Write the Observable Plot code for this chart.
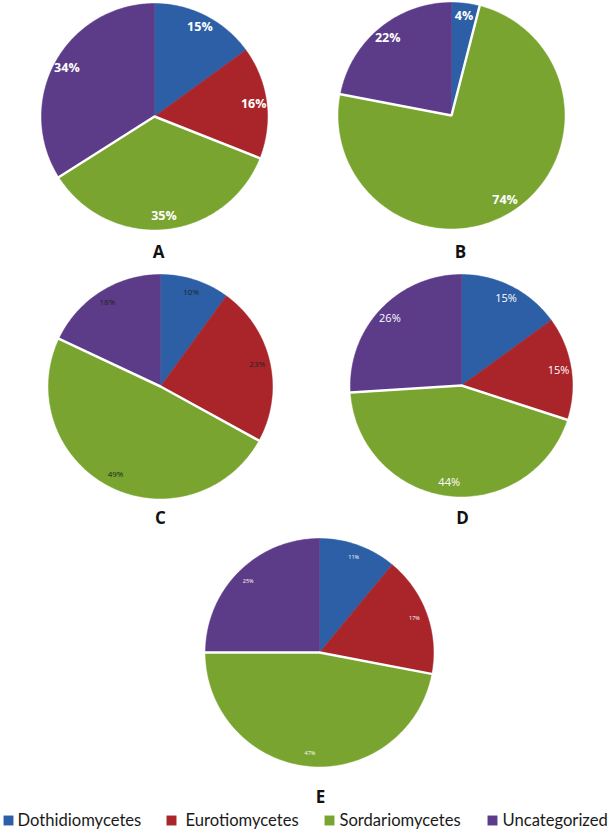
<!DOCTYPE html>
<html>
<head>
<meta charset="utf-8">
<script src="https://cdn.jsdelivr.net/npm/d3@7"></script>
<script src="https://cdn.jsdelivr.net/npm/@observablehq/plot@0.6"></script>
<style>
  html, body { margin: 0; padding: 0; background: #fff; }
  svg { display: block; }
</style>
</head>
<body>
<div id="chart"></div>
<script>
// ---- data ----
const categories = ["Dothidiomycetes", "Eurotiomycetes", "Sordariomycetes", "Uncategorized"];
const panels = ["A", "B", "C", "D", "E"];
const valuesA = [15, 16, 35, 34];
const valuesB = [4, 0, 74, 22];
const valuesC = [10, 23, 49, 18];
const valuesD = [15, 15, 44, 26];
const valuesE = [11, 17, 47, 25];
const panelValues = [valuesA, valuesB, valuesC, valuesD, valuesE];

// ---- styling / layout ----
const colors = ["#2c5fa6", "#a9252a", "#79a42f", "#5c3b88"];
const layout = {
  A: {cx: 154, cy: 116, r: 113, lx: 158, ly: 252, fs: 12.5, fw: "bold", fc: "#fff"},
  B: {cx: 451, cy: 115, r: 113, lx: 460, ly: 252, fs: 12.5, fw: "bold", fc: "#fff"},
  C: {cx: 160, cy: 386, r: 112, lx: 160, ly: 518, fs: 8,   fw: "normal", fc: "#222"},
  D: {cx: 461, cy: 385, r: 111, lx: 462, ly: 518, fs: 11,  fw: "normal", fc: "#fff"},
  E: {cx: 319, cy: 652, r: 114, lx: 320, ly: 797, fs: 5.5, fw: "normal", fc: "#fff"}
};
const W = 609, H = 834;

// ---- build slice polygons from the values ----
const slices = [];
const edges = [];
const labels = [];
panels.forEach((p, pi) => {
  const L = layout[p];
  const vals = panelValues[pi];
  const total = d3.sum(vals);
  let acc = 0;
  vals.forEach((v, ci) => {
    const a0 = acc / total * 2 * Math.PI;
    acc += v;
    const a1 = acc / total * 2 * Math.PI;
    if (v <= 0) return;
    const key = p + "-" + ci;
    const pts = [[L.cx, L.cy]];
    const n = Math.max(2, Math.ceil((a1 - a0) / (Math.PI / 180)));
    for (let k = 0; k <= n; k++) {
      const a = a0 + (a1 - a0) * k / n;
      pts.push([L.cx + L.r * Math.sin(a), L.cy - L.r * Math.cos(a)]);
    }
    pts.push([L.cx, L.cy]);
    pts.forEach(([x, y]) => slices.push({key, cat: categories[ci], x, y}));
    if (ci === 2) {
      const e0 = pts[1], e1 = pts[pts.length - 2];
      [e0, [L.cx, L.cy], e1].forEach(([x, y]) => edges.push({key, x, y}));
    }
    const am = (a0 + a1) / 2;
    const lr = L.r * 0.885;
    labels.push({panel: p, text: v + "%", x: L.cx + lr * Math.sin(am), y: L.cy - lr * Math.cos(am)});
  });
});

const panelLabels = panels.map(p => ({text: p, x: layout[p].lx, y: layout[p].ly}));
const legendItems = [
  {cat: categories[0], sx: 8,   tx: 17},
  {cat: categories[1], sx: 171, tx: 185},
  {cat: categories[2], sx: 329, tx: 339},
  {cat: categories[3], sx: 492, tx: 502}
];
const legendY = 820;

const labelMarks = panels.map(p => Plot.text(labels.filter(d => d.panel === p), {
  x: "x", y: "y", text: "text",
  fill: layout[p].fc, fontSize: layout[p].fs, fontWeight: layout[p].fw,
  fontFamily: "'Open Sans', sans-serif"
}));

const chart = Plot.plot({
  width: W, height: H,
  margin: 0,
  x: {domain: [0, W], range: [0, W], axis: null},
  y: {domain: [0, H], range: [0, H], axis: null},
  color: {domain: categories, range: colors},
  marks: [
    Plot.line(slices, {x: "x", y: "y", z: "key", fill: "cat", stroke: "cat", strokeWidth: 0.5, curve: "linear"}),
    Plot.line(edges, {x: "x", y: "y", z: "key", stroke: "#fff", strokeWidth: 2.5, strokeLinejoin: "miter", curve: "linear"}),
    ...labelMarks,
    Plot.text(panelLabels, {x: "x", y: "y", text: "text", fontSize: 17, fontWeight: "bold", fill: "#111", fontFamily: "'Open Sans', sans-serif"}),
    Plot.dot(legendItems, {x: "sx", y: () => legendY, fill: "cat", symbol: "square", r: 5.6, stroke: "none"}),
    Plot.text(legendItems, {x: "tx", y: () => legendY, text: "cat", textAnchor: "start", fontSize: 16.6, fill: "#1a1a1a", fontFamily: "Lato, sans-serif"})
  ]
});
document.getElementById("chart").appendChild(chart);
</script>
</body>
</html>
